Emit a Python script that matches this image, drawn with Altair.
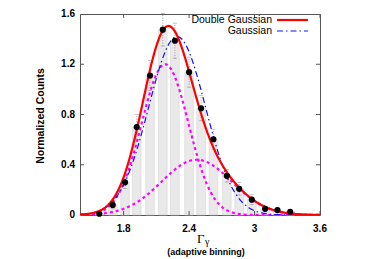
import altair as alt
import numpy as np
import pandas as pd

# ---- data ----
gamma = [1.577, 1.700, 1.813, 1.920, 2.042, 2.159, 2.270, 2.400,
         2.510, 2.623, 2.746, 2.859, 2.975, 3.097, 3.210, 3.327]
counts = [0.01, 0.08, 0.26, 0.70, 1.11, 1.475, 1.387, 1.137,
          0.85, 0.603, 0.312, 0.208, 0.122, 0.049, 0.039, 0.026]
errors = [0.01, 0.03, 0.05, 0.10, 0.12, 0.13, 0.14, 0.12,
          0.10, 0.08, 0.05, 0.05, 0.04, 0.02, 0.015, 0.01]
bin_half_width = 0.04

# fitted components (amplitude, mean, sigma)
g_narrow = (1.20, 2.18, 0.215)
g_broad = (0.44, 2.47, 0.32)
g_single = (1.42, 2.29, 0.26)

x_domain = [1.4, 3.6]
y_domain = [0, 1.6]
x_ticks = [1.8, 2.4, 3.0, 3.6]
x_tick_labels = ["1.8", "2.4", "3", "3.6"]
y_ticks = [0, 0.4, 0.8, 1.2, 1.6]
y_tick_labels = ["0", "0.4", "0.8", "1.2", "1.6"]

W, H = 240, 201

# ---- tables ----
pts = pd.DataFrame({"x": gamma, "y": counts, "err": errors})
pts["xa"] = pts["x"] - bin_half_width
pts["xb"] = pts["x"] + bin_half_width
pts["base"] = 0.0
pts["lo"] = pts["y"] - pts["err"]
pts["hi"] = pts["y"] + pts["err"]


def gauss(x, p):
    a, m, s = p
    return a * np.exp(-((x - m) ** 2) / (2 * s * s))


xs = np.linspace(x_domain[0], x_domain[1], 441)
curves = pd.DataFrame({
    "x": xs,
    "narrow": gauss(xs, g_narrow),
    "broad": gauss(xs, g_broad),
    "single": gauss(xs, g_single),
})
curves["double"] = curves["narrow"] + curves["broad"]
comp = curves.melt(id_vars="x", value_vars=["narrow", "broad"], var_name="c", value_name="y")

xs_scale = alt.Scale(domain=x_domain, nice=False, zero=False)
ys_scale = alt.Scale(domain=y_domain, nice=False, zero=False)
X = lambda f: alt.X(f, scale=xs_scale, axis=None)
Y = lambda f: alt.Y(f, scale=ys_scale, axis=None)

frame_col = "#555555"
FONT = "Liberation Sans"

bars = alt.Chart(pts).mark_rect(color="#e9e9e9", stroke="#d0d0d0", strokeWidth=0.5).encode(
    x=X("xa:Q"), x2="xb:Q", y=Y("base:Q"), y2="y:Q",
)
err_rules = alt.Chart(pts).mark_rule(color="#9a9a9a", strokeDash=[1, 1.5], strokeWidth=1).encode(
    x=X("x:Q"), y=Y("lo:Q"), y2="hi:Q",
)
cap_hi = alt.Chart(pts).mark_tick(color="#9a9a9a", orient="horizontal", size=4, thickness=0.8).encode(
    x=X("x:Q"), y=Y("hi:Q"),
)
cap_lo = alt.Chart(pts).mark_tick(color="#9a9a9a", orient="horizontal", size=4, thickness=0.8).encode(
    x=X("x:Q"), y=Y("lo:Q"),
)
magenta = alt.Chart(comp).mark_line(color="#ff00ff", strokeWidth=2.2, strokeDash=[3, 3], clip=True).encode(
    x=X("x:Q"), y=Y("y:Q"), detail="c:N",
)
blue = alt.Chart(curves).mark_line(color="#1010ff", strokeWidth=1.2, strokeDash=[6, 3, 1.5, 3], clip=True).encode(
    x=X("x:Q"), y=Y("single:Q"),
)
red = alt.Chart(curves).mark_line(color="#ff0000", strokeWidth=2.2, clip=True).encode(
    x=X("x:Q"), y=Y("double:Q"),
)
dots = alt.Chart(pts).mark_circle(color="black", size=38, opacity=1).encode(
    x=X("x:Q"), y=Y("y:Q"),
)

# inward frame ticks
xt = pd.DataFrame({"x": x_ticks, "t": x_tick_labels})
yt = pd.DataFrame({"y": y_ticks, "t": y_tick_labels})
yt_in = yt.iloc[1:-1]
tick_b = alt.Chart(xt).mark_rule(color=frame_col).encode(x=X("x:Q"), y=alt.value(H), y2=alt.value(H - 4))
tick_t = alt.Chart(xt).mark_rule(color=frame_col).encode(x=X("x:Q"), y=alt.value(0), y2=alt.value(4))
tick_l = alt.Chart(yt_in).mark_rule(color=frame_col).encode(y=Y("y:Q"), x=alt.value(0), x2=alt.value(4))
tick_r = alt.Chart(yt_in).mark_rule(color=frame_col).encode(y=Y("y:Q"), x=alt.value(W), x2=alt.value(W - 4))

# tick labels
xlab = alt.Chart(xt).mark_text(font=FONT, fontSize=10, fontWeight="bold", color="black",
                               align="center", baseline="middle").encode(
    x=X("x:Q"), y=alt.value(H + 14), text="t:N")
ylab = alt.Chart(yt).mark_text(font=FONT, fontSize=10, fontWeight="bold", color="black",
                               align="right", baseline="middle").encode(
    y=Y("y:Q"), x=alt.value(-5), text="t:N")
ytitle = alt.Chart(pd.DataFrame({"t": ["Normalized Counts"]})).mark_text(
    font=FONT, fontSize=10.5, fontWeight="bold", color="black", angle=270,
    align="center", baseline="middle").encode(
    text="t:N", x=alt.value(-39), y=alt.value(102))

# legend
leg_labels = ["Double Gaussian", "Gaussian"]
leg1 = alt.Chart(pd.DataFrame({"t": [leg_labels[0]]})).mark_text(
    align="right", baseline="middle", font=FONT, fontSize=10.5, color="black"
).encode(text="t:N", x=alt.value(192), y=alt.value(6))
leg2 = alt.Chart(pd.DataFrame({"t": [leg_labels[1]]})).mark_text(
    align="right", baseline="middle", font=FONT, fontSize=10.5, color="black"
).encode(text="t:N", x=alt.value(192), y=alt.value(17))
leg1_line = alt.Chart(pd.DataFrame({"t": [leg_labels[0]]})).mark_rule(color="#ff0000", strokeWidth=2.2).encode(
    x=alt.value(197), x2=alt.value(228), y=alt.value(6))
leg2_line = alt.Chart(pd.DataFrame({"t": [leg_labels[1]]})).mark_rule(
    color="#1010ff", strokeWidth=1.2, strokeDash=[6, 3, 1.5, 3]).encode(
    x=alt.value(197), x2=alt.value(228), y=alt.value(17))

# x-axis title: Gamma with subscript gamma, and note
xt_main = alt.Chart(pd.DataFrame({"t": ["Γ"]})).mark_text(
    align="left", baseline="alphabetic", font="Liberation Serif", fontSize=13, color="black"
).encode(text="t:N", x=alt.value(117), y=alt.value(H + 28))
xt_sub = alt.Chart(pd.DataFrame({"t": ["γ"]})).mark_text(
    align="left", baseline="alphabetic", font="Liberation Serif", fontSize=10, color="black"
).encode(text="t:N", x=alt.value(125), y=alt.value(H + 30))
xt_note = alt.Chart(pd.DataFrame({"t": ["(adaptive binning)"]})).mark_text(
    align="center", baseline="alphabetic", font=FONT, fontSize=9, fontWeight="bold", color="black"
).encode(text="t:N", x=alt.value(126), y=alt.value(H + 40))

chart = alt.layer(
    bars, err_rules, cap_hi, cap_lo, magenta, blue, red, dots,
    tick_b, tick_t, tick_l, tick_r,
    xlab, ylab, ytitle,
    leg1, leg2, leg1_line, leg2_line,
    xt_main, xt_sub, xt_note,
).properties(
    width=W, height=H,
    autosize=alt.AutoSizeParams(type="none"),
    padding={"left": 72, "top": 6, "right": 40, "bottom": 42},
).configure_view(
    stroke=frame_col, strokeWidth=1
)

chart.save("out.html", embed_options={"renderer": "svg", "actions": False})
